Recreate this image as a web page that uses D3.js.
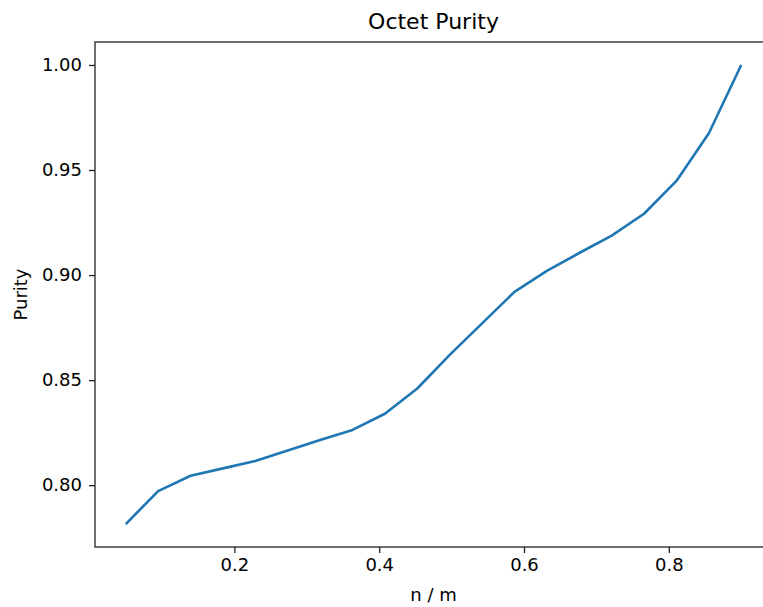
<!DOCTYPE html>
<html>
<head>
<meta charset="utf-8">
<script src="https://cdn.jsdelivr.net/npm/d3@7"></script>
<style>
  html, body { margin: 0; padding: 0; background: #fff; overflow: hidden; }
  svg { display: block; }
  text { font-family: "DejaVu Sans", sans-serif; fill: #000; }
</style>
</head>
<body>
<svg id="chart" width="763" height="607"></svg>
<script>
// n / m ratios and the purity measured at each
const ratios = [0.05, 0.0947, 0.1395, 0.1842, 0.2289, 0.2737, 0.3184, 0.3632, 0.4079, 0.4526,
                0.4974, 0.5421, 0.5868, 0.6316, 0.6763, 0.7211, 0.7658, 0.8105, 0.8553, 0.9];
const purity = [0.7815, 0.7972, 0.8045, 0.8080, 0.8115, 0.8165, 0.8215, 0.8263, 0.8340, 0.8460,
                0.8620, 0.8770, 0.8920, 0.9020, 0.9105, 0.9188, 0.9292, 0.9448, 0.9675, 1.0000];
const xTicks = [0.2, 0.4, 0.6, 0.8];
const yTicks = [0.80, 0.85, 0.90, 0.95, 1.00];

const plot = { left: 95, top: 42, right: 772, bottom: 547 };

// 5% padding around the data range on both axes
function padded(values) {
  const [lo, hi] = d3.extent(values);
  const m = (hi - lo) * 0.05;
  return [lo - m, hi + m];
}

const x = d3.scaleLinear().domain(padded(ratios)).range([plot.left, plot.right]);
const y = d3.scaleLinear().domain(padded(purity)).range([plot.bottom, plot.top]);

const svg = d3.select("#chart");

// line
const line = d3.line().x((d, i) => x(ratios[i])).y(d => y(d));
svg.append("path")
  .datum(purity)
  .attr("d", line)
  .attr("fill", "none")
  .attr("stroke", "#1f77b4")
  .attr("stroke-width", 2.6)
  .attr("stroke-linejoin", "round")
  .attr("stroke-linecap", "butt");

// axes
const xAxis = d3.axisBottom(x).tickValues(xTicks).tickFormat(d3.format(".1f"))
  .tickSize(6).tickPadding(5);
const yAxis = d3.axisLeft(y).tickValues(yTicks).tickFormat(d3.format(".2f"))
  .tickSize(6).tickPadding(7);

const gx = svg.append("g").attr("transform", `translate(0,${plot.bottom})`).call(xAxis);
const gy = svg.append("g").attr("transform", `translate(${plot.left},0)`).call(yAxis);

[gx, gy].forEach(g => {
  g.select(".domain").remove();
  g.selectAll(".tick line").attr("stroke", "#222").attr("stroke-width", 1.3);
  g.selectAll(".tick text").attr("font-size", 18).attr("fill", "#111")
    .attr("font-family", "DejaVu Sans, sans-serif");
});

// frame
svg.append("rect")
  .attr("x", plot.left).attr("y", plot.top)
  .attr("width", plot.right - plot.left).attr("height", plot.bottom - plot.top)
  .attr("fill", "none").attr("stroke", "#222").attr("stroke-width", 1.3);

// title and axis labels
svg.append("text")
  .attr("x", (plot.left + plot.right) / 2).attr("y", 29)
  .attr("text-anchor", "middle").attr("font-size", 22).attr("fill", "#111")
  .text("Octet Purity");

svg.append("text")
  .attr("x", (plot.left + plot.right) / 2).attr("y", 601)
  .attr("text-anchor", "middle").attr("font-size", 18).attr("fill", "#111")
  .text("n / m");

svg.append("text")
  .attr("transform", `translate(27,${(plot.top + plot.bottom) / 2}) rotate(-90)`)
  .attr("text-anchor", "middle").attr("font-size", 18).attr("fill", "#111")
  .text("Purity");
</script>
</body>
</html>
